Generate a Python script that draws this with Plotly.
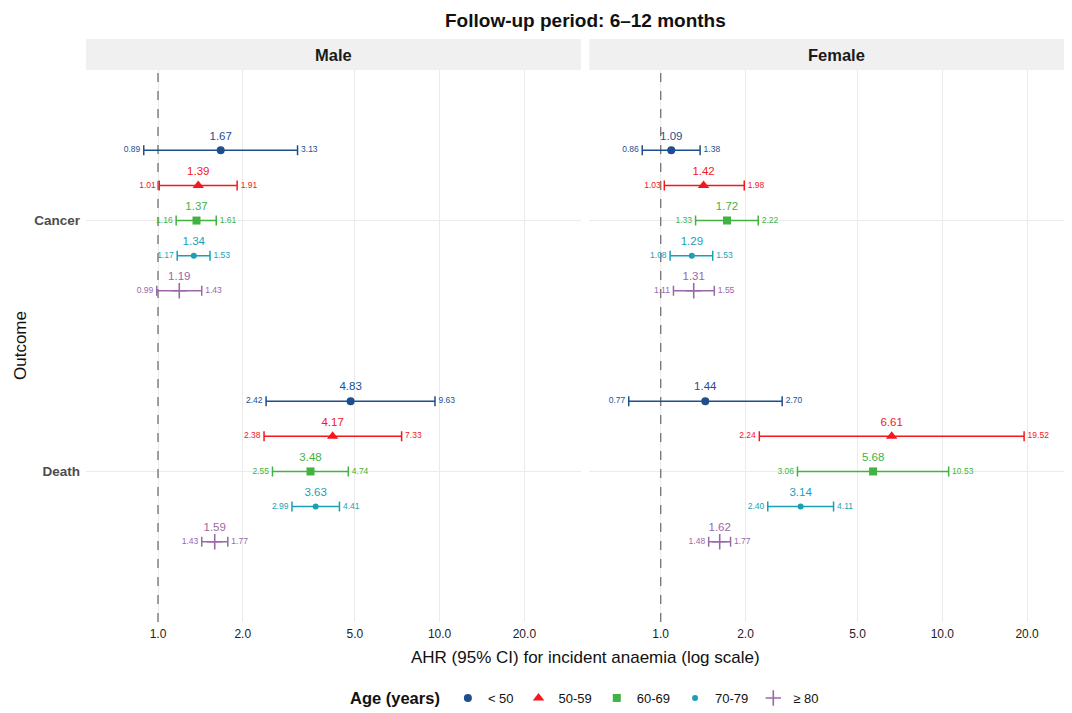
import numpy as np
import plotly.graph_objects as go

# ---------------- data ----------------
age_groups = ["< 50", "50-59", "60-69", "70-79", "≥ 80"]
outcomes = ["Cancer", "Death"]

male_cancer_est = [1.67, 1.39, 1.37, 1.34, 1.19]
male_cancer_lo = [0.89, 1.01, 1.16, 1.17, 0.99]
male_cancer_hi = [3.13, 1.91, 1.61, 1.53, 1.43]

male_death_est = [4.83, 4.17, 3.48, 3.63, 1.59]
male_death_lo = [2.42, 2.38, 2.55, 2.99, 1.43]
male_death_hi = [9.63, 7.33, 4.74, 4.41, 1.77]

female_cancer_est = [1.09, 1.42, 1.72, 1.29, 1.31]
female_cancer_lo = [0.86, 1.03, 1.33, 1.08, 1.11]
female_cancer_hi = [1.38, 1.98, 2.22, 1.53, 1.55]

female_death_est = [1.44, 6.61, 5.68, 3.14, 1.62]
female_death_lo = [0.77, 2.24, 3.06, 2.40, 1.48]
female_death_hi = [2.70, 19.52, 10.53, 4.11, 1.77]

x_ticks = [1, 2, 5, 10, 20]
x_ticklabels = ["1.0", "2.0", "5.0", "10.0", "20.0"]

# ---------------- styles ----------------
colors = ["#1d4f8f", "#f5171c", "#42b242", "#1a9fb6", "#9a68a8"]
symbols = ["circle", "triangle-up", "square", "circle", "cross-thin-open"]
sizes = [8, 10, 8, 6, 11]
FONT = "Liberation Sans, Arial, Helvetica, sans-serif"

OFF = 8  # page body margin of the browser
W, H = 1072 - OFF, 713 - OFF
# positions measured in screenshot pixels, converted to figure pixels
L = 86 - OFF
T = 70 - OFF
R = 0
B = H - (622 - OFF)
PW = W - L - R
PH = H - T - B
DEC = 281.6  # px per decade
male_px = (86 - OFF, 581 - OFF, 158.0 - OFF)
female_px = (589.3 - OFF, 1072 - OFF, 660.7 - OFF)


def rng(px):
    a, b, one = px
    return [(a - one) / DEC, (b - one) / DEC]


def dom(px):
    a, b, _ = px
    return [(a - L) / PW, (b - L) / PW]


def px2paper_x(xs):
    return (xs - OFF - L) / PW


def px2paper_y(ys):
    return 1 - (ys - OFF - T) / PH


outcome_pos = {"Cancer": 2, "Death": 1}
dodge = [0.28, 0.14, 0.0, -0.14, -0.28]

panels = [
    ("Male", "x", "y",
     {"Cancer": (male_cancer_est, male_cancer_lo, male_cancer_hi),
      "Death": (male_death_est, male_death_lo, male_death_hi)}),
    ("Female", "x2", "y2",
     {"Cancer": (female_cancer_est, female_cancer_lo, female_cancer_hi),
      "Death": (female_death_est, female_death_lo, female_death_hi)}),
]

fig = go.Figure()

# reference lines at 1
for _, xa, ya, _d in panels:
    fig.add_trace(go.Scatter(x=[1, 1], y=[0.4, 2.6], mode="lines", xaxis=xa, yaxis=ya,
                             line=dict(color="#7a7a7a", width=1.4, dash="dash"),
                             showlegend=False, hoverinfo="skip"))

for pi, (pname, xa, ya, data) in enumerate(panels):
    for gi, grp in enumerate(age_groups):
        est, lo, hi, ys = [], [], [], []
        for oc in outcomes:
            e, l_, h_ = data[oc]
            est.append(e[gi]); lo.append(l_[gi]); hi.append(h_[gi])
            ys.append(outcome_pos[oc] + dodge[gi])
        est = np.array(est); lo = np.array(lo); hi = np.array(hi)
        c = colors[gi]
        marker = dict(color=c, size=sizes[gi], symbol=symbols[gi])
        if symbols[gi].endswith("open"):
            marker["line"] = dict(color=c, width=1.6)
        fig.add_trace(go.Scatter(
            x=est, y=ys, mode="markers", xaxis=xa, yaxis=ya,
            marker=marker, name=grp, legendgroup=grp, showlegend=(pi == 0),
            error_x=dict(type="data", symmetric=False, array=hi - est, arrayminus=est - lo,
                         color=c, thickness=1.5, width=5),
        ))
        # estimate labels (invisible marker sets the text offset)
        fig.add_trace(go.Scatter(
            x=est, y=ys, mode="markers+text", xaxis=xa, yaxis=ya,
            marker=dict(size=11, opacity=0),
            text=[f"{v:.2f}" for v in est], textposition="top center",
            textfont=dict(color=c, size=11.5, family=FONT),
            showlegend=False, hoverinfo="skip"))
        # CI labels
        fig.add_trace(go.Scatter(
            x=lo, y=ys, mode="markers+text", xaxis=xa, yaxis=ya,
            marker=dict(size=4, opacity=0),
            text=[f"{v:.2f}" for v in lo], textposition="middle left",
            textfont=dict(color=c, size=8.5, family=FONT),
            showlegend=False, hoverinfo="skip"))
        fig.add_trace(go.Scatter(
            x=hi, y=ys, mode="markers+text", xaxis=xa, yaxis=ya,
            marker=dict(size=4, opacity=0),
            text=[f"{v:.2f}" for v in hi], textposition="middle right",
            textfont=dict(color=c, size=8.5, family=FONT),
            showlegend=False, hoverinfo="skip"))

xcommon = dict(type="log", tickvals=x_ticks, ticktext=x_ticklabels, showgrid=True,
               gridcolor="#ebebeb", gridwidth=1.1, zeroline=False, showline=False,
               ticks="", tickfont=dict(size=12, color="#222222", family=FONT),
               ticklabelstandoff=3, automargin=False)
ycommon = dict(range=[0.4, 2.6], tickvals=[2, 1], ticktext=["<b>Cancer</b>", "<b>Death</b>"],
               showgrid=True, gridcolor="#ebebeb", gridwidth=1.1, zeroline=False,
               showline=False, ticks="", automargin=False)

fig.update_layout(
    width=W, height=H,
    margin=dict(l=L, r=R, t=T, b=B, autoexpand=False),
    plot_bgcolor="white", paper_bgcolor="white",
    font=dict(family=FONT, color="#222222"),
    xaxis=dict(xcommon, domain=dom(male_px), range=rng(male_px), anchor="y"),
    xaxis2=dict(xcommon, domain=dom(female_px), range=rng(female_px), anchor="y2"),
    yaxis=dict(ycommon, domain=[0, 1], anchor="x", ticklabelstandoff=5,
               tickfont=dict(size=13.5, color="#4d4d4d", family=FONT)),
    yaxis2=dict(ycommon, domain=[0, 1], anchor="x2", showticklabels=False),
    showlegend=True,
    legend=dict(orientation="h", x=px2paper_x(586), xanchor="center",
                y=px2paper_y(699), yanchor="middle",
                title=dict(text="<b>Age (years)</b>", font=dict(size=16.5, color="#111111")),
                font=dict(size=13, color="#111111", family=FONT),
                itemwidth=30, tracegroupgap=0),
)

# strips
strip_h = 31 / PH
for px in [male_px, female_px]:
    d = dom(px)
    fig.add_shape(type="rect", xref="paper", yref="paper", x0=d[0], x1=d[1],
                  y0=1, y1=1 + strip_h, fillcolor="#f0f0f0", line=dict(width=0), layer="below")

for pname, cx in [("Male", (86 + 581) / 2), ("Female", (589.3 + 1084) / 2)]:
    fig.add_annotation(xref="paper", yref="paper", x=px2paper_x(cx), y=1 + strip_h / 2,
                       text=f"<b>{pname}</b>", showarrow=False, xanchor="center", yanchor="middle",
                       font=dict(size=16.5, color="#1a1a1a", family=FONT))

# title
fig.add_annotation(xref="paper", yref="paper", x=px2paper_x(585), y=px2paper_y(20),
                   text="<b>Follow-up period: 6–12 months</b>", showarrow=False,
                   xanchor="center", yanchor="middle", font=dict(size=19, color="#111111", family=FONT))
# x axis title
fig.add_annotation(xref="paper", yref="paper", x=px2paper_x(585), y=px2paper_y(657),
                   text="AHR (95% CI) for incident anaemia (log scale)", showarrow=False,
                   xanchor="center", yanchor="middle", font=dict(size=17, color="#111111", family=FONT))
# y axis title
fig.add_annotation(xref="paper", yref="paper", x=px2paper_x(20), y=px2paper_y(346),
                   text="Outcome", showarrow=False, textangle=-90,
                   xanchor="center", yanchor="middle", font=dict(size=17, color="#111111", family=FONT))

fig.write_html("out.html")
